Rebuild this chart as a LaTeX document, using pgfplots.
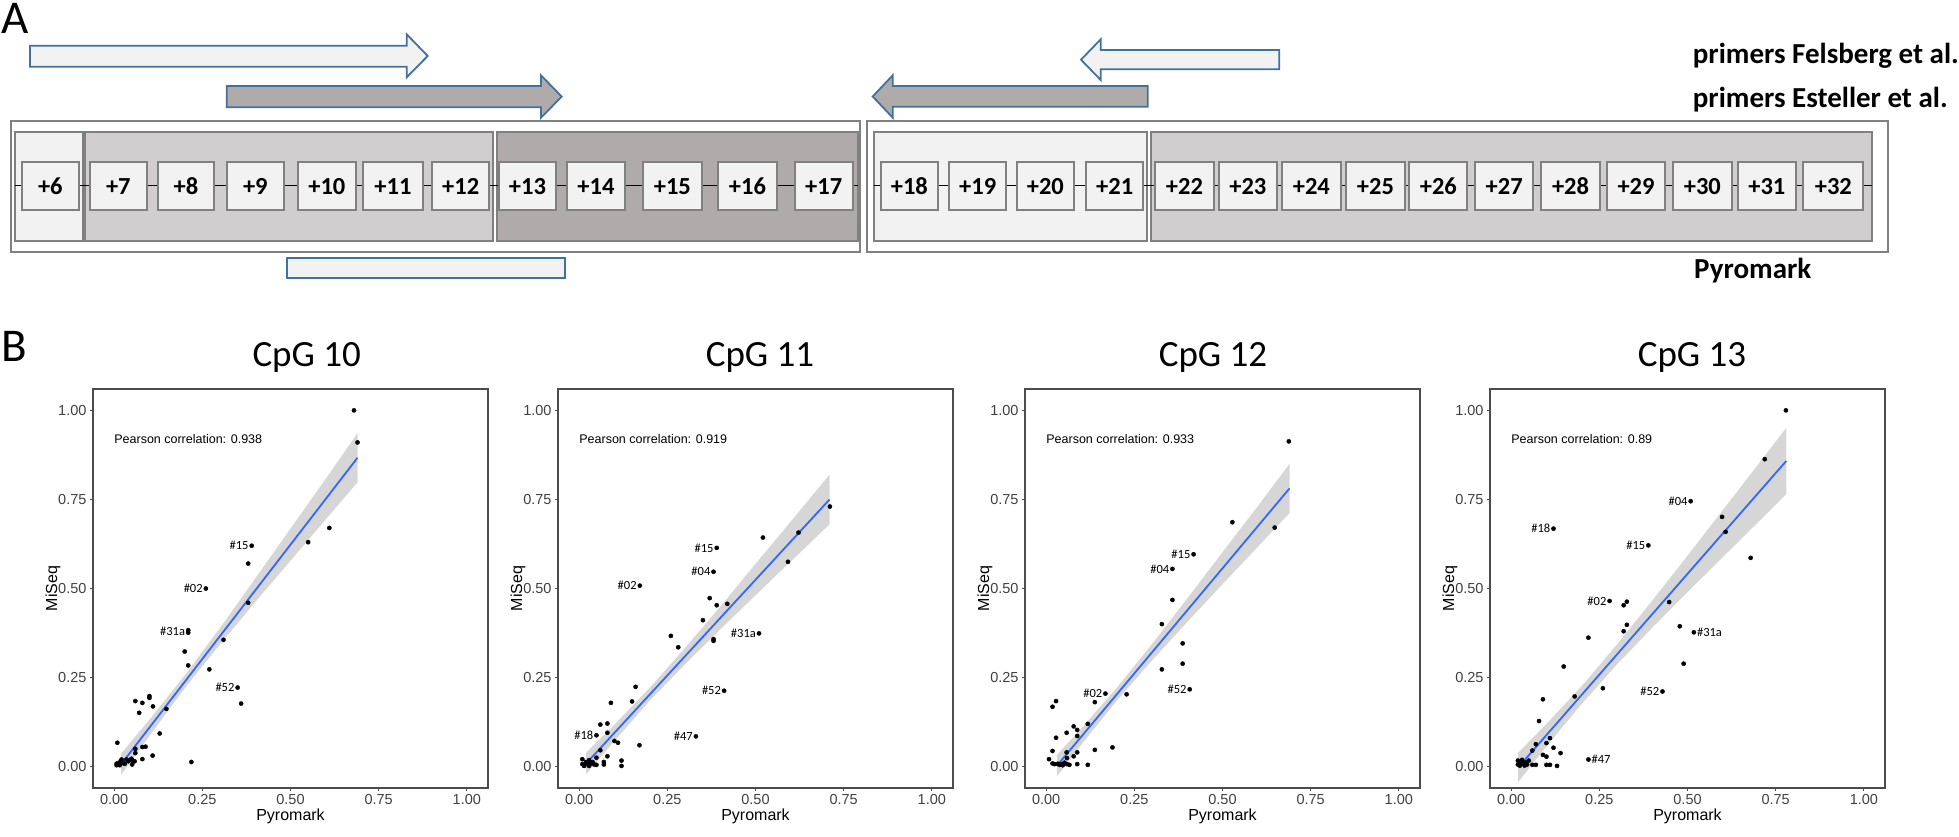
\documentclass[border=0pt]{standalone}
\usepackage{pgfplots}
\pgfplotsset{compat=1.18}
\usepackage{fontspec}
\setmainfont{Liberation Sans}
\newfontfamily\calfont{Carlito}

\definecolor{lite}{HTML}{F2F2F2}
\definecolor{mid}{HTML}{D0CECE}
\definecolor{dark}{HTML}{AFABAB}
\definecolor{arrowblue}{HTML}{41719C}
\definecolor{boxgray}{HTML}{808080}
\definecolor{ggblue}{HTML}{3366FF}
\definecolor{bandgray}{HTML}{999999}

\tikzset{
  cpgbox/.style={draw=boxgray, line width=2pt, fill=lite, anchor=west,
    minimum height=47.7pt, inner sep=0pt, outer sep=0pt,
    font=\calfont\bfseries\fontsize{24.5}{26}\selectfont},
  grp/.style={draw=boxgray, line width=2pt},
  primer/.style={fill=#1, draw=arrowblue, line width=1.8pt},
  lab/.style={inner sep=0pt, font=\calfont\fontsize{12.5}{14}\selectfont},
  labL/.style={lab, anchor=east, xshift=-3pt},
  labR/.style={lab, anchor=west, xshift=3pt},
  pear/.style={anchor=west, inner sep=0pt, font=\fontsize{12.5}{14}\selectfont},
  key/.style={font=\calfont\bfseries\fontsize{29}{31}\selectfont, anchor=base west, inner sep=0pt},
}
\newcommand\cpg[3]{\node[cpgbox, minimum width={(#2-#1)*1pt}] at (#1,186.2) {#3};}

\pgfplotsset{
  scat/.style={
    anchor=south west, scale only axis, width=395pt, height=399pt,
    xmin=-0.06, xmax=1.06, ymin=-0.06, ymax=1.06,
    xtick={0,0.25,0.5,0.75,1}, ytick={0,0.25,0.5,0.75,1},
    xticklabels={0.00,0.25,0.50,0.75,1.00},
    yticklabels={0.00,0.25,0.50,0.75,1.00},
    tick pos=left, tick align=outside, major tick length=3pt,
    axis line style={black!70, line width=1.5pt},
    tick style={black!70, line width=1.2pt},
    ticklabel style={font=\fontsize{14.5}{16}\selectfont, text=black!75},
    xlabel={Pyromark}, ylabel={MiSeq},
    label style={font=\fontsize{16}{18}\selectfont},
    xlabel style={at={([yshift=-32pt]axis description cs:0.5,0)}, anchor=base},
    ylabel style={at={([xshift=-36pt]axis description cs:0,0.5)}, anchor=base},
  },
  pts/.style={only marks, mark=*, mark size=2.1pt, black},
  band/.style={draw=none, fill=bandgray, fill opacity=0.4},
  fit/.style={ggblue, line width=1.8pt},
}

\begin{document}
\begin{tikzpicture}
% panel A and headings, in pixel units of the reference
\begin{axis}[at={(0pt,0pt)}, anchor=south west, scale only axis,
  width=1959pt, height=836pt, xmin=0, xmax=1959, ymin=0, ymax=836,
  y dir=reverse, hide axis, clip=false, enlargelimits=false]
\node[font=\calfont\fontsize{47}{50}\selectfont, anchor=base west, inner sep=0pt] at (1,33.3) {A};
\node[font=\calfont\fontsize{47}{50}\selectfont, anchor=base west, inner sep=0pt] at (1.5,361.7) {B};

% primers
\draw[primer=lite] (30,45.7) -- (406.7,45.7) -- (406.7,34.3) -- (427.7,56) -- (406.7,77.3) -- (406.7,66.7) -- (30,66.7) -- cycle;
\draw[primer=dark] (226.7,86) -- (541,86) -- (541,75.3) -- (561.7,96.6) -- (541,117.7) -- (541,107.3) -- (226.7,107.3) -- cycle;
\draw[primer=lite] (1279.3,50) -- (1100.7,50) -- (1100.7,39.3) -- (1081,59.7) -- (1100.7,80) -- (1100.7,69.3) -- (1279.3,69.3) -- cycle;
\draw[primer=dark] (1147.7,86) -- (892.7,86) -- (892.7,75.3) -- (872.7,96.5) -- (892.7,117.7) -- (892.7,106.7) -- (1147.7,106.7) -- cycle;
\draw[primer=lite] (287.3,257.7) rectangle (565,277.7);

% amplicons
\draw[grp, fill=white] (10.7,120.7) rectangle (860,252.3);
\draw[grp, fill=white] (866.7,120.7) rectangle (1887.7,252.3);
\draw[grp, fill=lite] (15,132.3) rectangle (83.3,240.7);
\draw[grp, fill=mid] (85.3,132.3) rectangle (493.3,240.7);
\draw[grp, fill=dark] (496.7,132.3) rectangle (857.7,240.7);
\draw[grp, fill=lite] (874,132.3) rectangle (1146.7,240.7);
\draw[grp, fill=mid] (1151,132.3) rectangle (1872.3,240.7);
\draw[black, line width=0.9pt] (15,185.7) -- (857.7,185.7);
\draw[black, line width=0.9pt] (874,185.7) -- (1872.3,185.7);

\cpg{21.7}{79}{+6}
\cpg{90}{146.7}{+7}
\cpg{157.7}{214.3}{+8}
\cpg{226.7}{284}{+9}
\cpg{297.7}{356}{+10}
\cpg{363.3}{422.7}{+11}
\cpg{432}{489.3}{+12}
\cpg{499}{556}{+13}
\cpg{567}{625}{+14}
\cpg{643}{701.7}{+15}
\cpg{718.3}{776.7}{+16}
\cpg{794.7}{852.7}{+17}
\cpg{881}{937.7}{+18}
\cpg{949.3}{1006}{+19}
\cpg{1016.7}{1074}{+20}
\cpg{1086}{1143.3}{+21}
\cpg{1155}{1214}{+22}
\cpg{1218.7}{1277}{+23}
\cpg{1282}{1340.7}{+24}
\cpg{1346}{1405}{+25}
\cpg{1409.3}{1467.3}{+26}
\cpg{1475}{1533.3}{+27}
\cpg{1541}{1600}{+28}
\cpg{1606.7}{1665.3}{+29}
\cpg{1673}{1731.7}{+30}
\cpg{1737.7}{1796}{+31}
\cpg{1803.3}{1863.3}{+32}

\node[key] at (1692.7,64) {primers Felsberg et al.};
\node[key] at (1692.7,107.3) {primers Esteller et al.};
\node[key] at (1694,278.3) {Pyromark};

% panel titles
\node[font=\calfont\fontsize{37}{40}\selectfont, anchor=base, inner sep=0pt] at (306.7,366.7) {CpG 10};
\node[font=\calfont\fontsize{37}{40}\selectfont, anchor=base, inner sep=0pt] at (760,366.7) {CpG 11};
\node[font=\calfont\fontsize{37}{40}\selectfont, anchor=base, inner sep=0pt] at (1213,366.7) {CpG 12};
\node[font=\calfont\fontsize{37}{40}\selectfont, anchor=base, inner sep=0pt] at (1692,366.7) {CpG 13};
\end{axis}

% CpG 10
\begin{axis}[scat, at={(93pt,48pt)}]
\addplot[pts] coordinates {
(0.68,1.00) (0.69,0.91) (0.61,0.67) (0.55,0.63) (0.39,0.62) (0.38,0.57)
(0.26,0.50) (0.38,0.46) (0.21,0.383) (0.21,0.376) (0.31,0.356) (0.20,0.323)
(0.21,0.284) (0.27,0.273) (0.35,0.222) (0.36,0.177) (0.10,0.198) (0.10,0.193)
(0.06,0.184) (0.08,0.179) (0.11,0.169) (0.148,0.162) (0.071,0.151) (0.129,0.093)
(0.009,0.067) (0.089,0.056) (0.08,0.055) (0.06,0.05) (0.06,0.038) (0.109,0.031)
(0.08,0.021) (0.219,0.013)
(0.007,0.008) (0.011,0.010) (0.018,0.015) (0.025,0.010) (0.030,0.008) (0.035,0.020)
(0.040,0.015) (0.044,0.018) (0.049,0.022) (0.051,0.006) (0.058,0.015) (0.016,0.004)
(0.021,0.020) (0.054,0.015) (0.007,0.004)};
\addplot[band] coordinates {
(0.02,0.037) (0.1,0.132) (0.2,0.256) (0.3,0.389) (0.4,0.528) (0.5,0.668) (0.6,0.808) (0.69,0.936)
(0.69,0.798) (0.6,0.694) (0.5,0.578) (0.4,0.462) (0.3,0.343) (0.2,0.220) (0.1,0.086) (0.02,-0.023)} -- cycle;
\addplot[fit] coordinates {(0.02,0.007) (0.69,0.867)};
\node[pear] at (axis cs:0,0.92) {Pearson correlation: 0.938};
\node[labL] at (axis cs:0.39,0.62) {\#15};
\node[labL] at (axis cs:0.26,0.50) {\#02};
\node[labL] at (axis cs:0.21,0.38) {\#31a};
\node[labL] at (axis cs:0.35,0.222) {\#52};
\end{axis}

% CpG 11
\begin{axis}[scat, at={(558pt,48pt)}]
\addplot[pts] coordinates {
(0.711,0.730) (0.622,0.657) (0.521,0.643) (0.592,0.575) (0.390,0.614) (0.381,0.547)
(0.172,0.508) (0.370,0.473) (0.390,0.453) (0.420,0.457) (0.351,0.411) (0.510,0.374)
(0.381,0.358) (0.381,0.353) (0.260,0.367) (0.281,0.335) (0.160,0.224) (0.150,0.183)
(0.090,0.179) (0.411,0.213) (0.060,0.118) (0.080,0.121) (0.049,0.088) (0.080,0.095)
(0.331,0.085) (0.100,0.072) (0.110,0.067) (0.171,0.060) (0.060,0.046) (0.080,0.029)
(0.049,0.025) (0.070,0.013) (0.070,0.006) (0.120,0.017) (0.120,0.002) (0.049,0.005)
(0.009,0.021) (0.009,0.007) (0.019,0.013) (0.024,0.007) (0.028,0.018) (0.033,0.008)
(0.038,0.013) (0.043,0.006) (0.014,0.002) (0.028,0.002)};
\addplot[band] coordinates {
(0.02,0.039) (0.1,0.118) (0.2,0.221) (0.3,0.333) (0.4,0.449) (0.5,0.569) (0.6,0.688) (0.71,0.820)
(0.71,0.680) (0.6,0.576) (0.5,0.481) (0.4,0.385) (0.3,0.287) (0.2,0.185) (0.1,0.072) (0.02,-0.021)} -- cycle;
\addplot[fit] coordinates {(0.02,0.009) (0.71,0.750)};
\node[pear] at (axis cs:0,0.92) {Pearson correlation: 0.919};
\node[labL] at (axis cs:0.390,0.614) {\#15};
\node[labL] at (axis cs:0.381,0.547) {\#04};
\node[labL] at (axis cs:0.172,0.508) {\#02};
\node[labL] at (axis cs:0.510,0.374) {\#31a};
\node[labL] at (axis cs:0.411,0.213) {\#52};
\node[labL] at (axis cs:0.049,0.088) {\#18};
\node[labL] at (axis cs:0.331,0.085) {\#47};
\end{axis}

% CpG 12
\begin{axis}[scat, at={(1025pt,48pt)}]
\addplot[pts] coordinates {
(0.688,0.913) (0.528,0.686) (0.648,0.671) (0.418,0.596) (0.358,0.555) (0.358,0.468)
(0.328,0.400) (0.387,0.346) (0.387,0.289) (0.328,0.273) (0.407,0.217) (0.168,0.205)
(0.228,0.203) (0.138,0.181) (0.028,0.184) (0.018,0.168) (0.118,0.120) (0.078,0.113)
(0.088,0.103) (0.058,0.095) (0.088,0.086) (0.028,0.081) (0.188,0.054) (0.138,0.047)
(0.018,0.044) (0.088,0.040) (0.058,0.040) (0.078,0.029) (0.008,0.021) (0.088,0.007)
(0.118,0.005)
(0.018,0.009) (0.024,0.007) (0.033,0.008) (0.043,0.007) (0.047,0.004) (0.052,0.011)
(0.059,0.024) (0.059,0.007) (0.066,0.005) (0.038,0.005)};
\addplot[band] coordinates {
(0.03,0.032) (0.1,0.108) (0.2,0.221) (0.3,0.344) (0.4,0.472) (0.5,0.602) (0.6,0.731) (0.69,0.850)
(0.69,0.712) (0.6,0.617) (0.5,0.512) (0.4,0.406) (0.3,0.298) (0.2,0.185) (0.1,0.062) (0.03,-0.028)} -- cycle;
\addplot[fit] coordinates {(0.03,0.002) (0.69,0.781)};
\node[pear] at (axis cs:0,0.92) {Pearson correlation: 0.933};
\node[labL] at (axis cs:0.418,0.596) {\#15};
\node[labL] at (axis cs:0.358,0.555) {\#04};
\node[labL] at (axis cs:0.168,0.205) {\#02};
\node[labL] at (axis cs:0.407,0.217) {\#52};
\end{axis}

% CpG 13
\begin{axis}[scat, at={(1490pt,48pt)}]
\addplot[pts] coordinates {
(0.779,1.000) (0.719,0.863) (0.509,0.745) (0.598,0.701) (0.608,0.659) (0.679,0.586)
(0.120,0.668) (0.389,0.621) (0.279,0.465) (0.328,0.463) (0.319,0.453) (0.448,0.462)
(0.328,0.398) (0.478,0.394) (0.319,0.380) (0.518,0.377) (0.219,0.362) (0.149,0.281)
(0.489,0.289) (0.260,0.220) (0.429,0.211) (0.180,0.197) (0.090,0.189) (0.079,0.128)
(0.110,0.080) (0.100,0.066) (0.070,0.063) (0.120,0.053) (0.140,0.038) (0.090,0.033)
(0.100,0.028) (0.060,0.045) (0.219,0.020) (0.100,0.005) (0.110,0.005) (0.130,0.002)
(0.070,0.005) (0.060,0.005)
(0.019,0.017) (0.019,0.006) (0.026,0.012) (0.031,0.019) (0.036,0.008) (0.041,0.012)
(0.045,0.006) (0.050,0.017) (0.025,0.003) (0.038,0.003)};
\addplot[band] coordinates {
(0.02,0.039) (0.1,0.120) (0.2,0.226) (0.3,0.343) (0.4,0.466) (0.5,0.592) (0.6,0.720) (0.7,0.848) (0.78,0.951)
(0.78,0.765) (0.7,0.686) (0.6,0.588) (0.5,0.490) (0.4,0.390) (0.3,0.287) (0.2,0.176) (0.1,0.057) (0.02,-0.043)} -- cycle;
\addplot[fit] coordinates {(0.02,-0.002) (0.78,0.858)};
\node[pear] at (axis cs:0,0.92) {Pearson correlation: 0.89};
\node[labL] at (axis cs:0.509,0.745) {\#04};
\node[labL] at (axis cs:0.120,0.668) {\#18};
\node[labL] at (axis cs:0.389,0.621) {\#15};
\node[labL] at (axis cs:0.279,0.465) {\#02};
\node[labR] at (axis cs:0.518,0.377) {\#31a};
\node[labL] at (axis cs:0.429,0.211) {\#52};
\node[labR] at (axis cs:0.219,0.020) {\#47};
\end{axis}

\pgfresetboundingbox
\path[use as bounding box] (0pt,0pt) rectangle (1959pt,836pt);
\end{tikzpicture}
\end{document}
